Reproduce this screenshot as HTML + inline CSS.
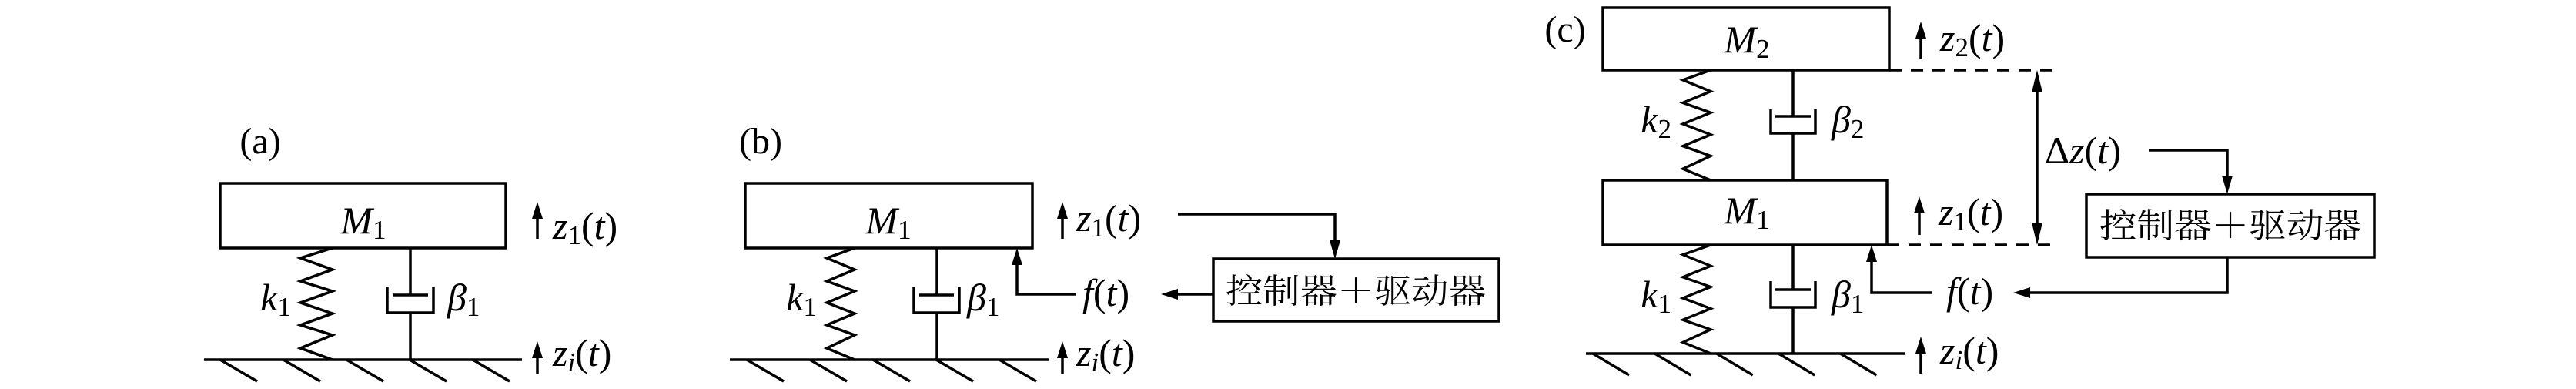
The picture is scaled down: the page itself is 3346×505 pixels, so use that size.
<!DOCTYPE html>
<html><head><meta charset="utf-8"><style>
html,body{margin:0;padding:0;background:#fff;}
svg{display:block;}
text{font-family:"Liberation Serif","Noto Serif CJK SC",serif;fill:#000;}
.cjk{font-family:"Liberation Serif","Noto Serif CJK SC","Noto Sans CJK SC",serif;}
</style></head><body>
<svg width="3346" height="505" viewBox="0 0 3346 505" xmlns="http://www.w3.org/2000/svg">
<defs>
<path id="spr" d="M18,0 L-18,13 L18,28 L-18,43 L18,56 L-18,71 L18,85 L-18,100 L18,113 L-18,130 L18,145" fill="none" stroke="#000" stroke-width="3.5"/>
<path id="hatch" d="M0,0 l48,28 M82,0 l48,28 M164,0 l48,28 M246,0 l48,28 M328,0 l48,28" fill="none" stroke="#000" stroke-width="3.5"/>
</defs>
<g stroke="#000" stroke-width="3.5" fill="none">
<!-- (a) -->
<rect x="286" y="238" width="371" height="84"/>
<line x1="265" y1="467" x2="678" y2="467"/>
<line x1="533" y1="322" x2="533" y2="383"/>
<line x1="533" y1="406" x2="533" y2="467"/>
<polyline points="503,372 503,406 563,406 563,372"/>
<line x1="510" y1="383" x2="556" y2="383"/>
<line x1="698" y1="310" x2="698" y2="280"/>
<line x1="698" y1="485" x2="698" y2="460"/>
<!-- (b) -->
<rect x="968" y="238" width="373" height="84"/>
<line x1="948" y1="467" x2="1362" y2="467"/>
<line x1="1217" y1="322" x2="1217" y2="383"/>
<line x1="1217" y1="406" x2="1217" y2="467"/>
<polyline points="1187,372 1187,406 1246,406 1246,372"/>
<line x1="1194" y1="383" x2="1239" y2="383"/>
<line x1="1380" y1="310" x2="1380" y2="280"/>
<line x1="1380" y1="485" x2="1380" y2="460"/>
<polyline points="1530,278 1734,278 1734,315"/>
<rect x="1576" y="336" width="371" height="81"/>
<line x1="1576" y1="382" x2="1525" y2="382"/>
<polyline points="1397,382 1321,382 1321,340"/>
<!-- (c) -->
<rect x="2082" y="10" width="372" height="81"/>
<rect x="2082" y="234" width="369" height="84"/>
<line x1="2060" y1="459" x2="2475" y2="459"/>
<line x1="2329" y1="91" x2="2329" y2="151"/>
<line x1="2329" y1="173" x2="2329" y2="234"/>
<polyline points="2300,142 2300,173 2358,173 2358,142"/>
<line x1="2306" y1="151" x2="2352" y2="151"/>
<line x1="2329" y1="318" x2="2329" y2="376"/>
<line x1="2329" y1="399" x2="2329" y2="459"/>
<polyline points="2300,365 2300,399 2358,399 2358,365"/>
<line x1="2306" y1="376" x2="2352" y2="376"/>
<line x1="2454" y1="91" x2="2668" y2="91" stroke-dasharray="16,12"/>
<line x1="2451" y1="318" x2="2668" y2="318" stroke-dasharray="16,12"/>
<line x1="2646" y1="105" x2="2646" y2="304"/>
<line x1="2495" y1="77" x2="2495" y2="45"/>
<line x1="2493" y1="305" x2="2493" y2="272"/>
<line x1="2495" y1="485" x2="2495" y2="455"/>
<polyline points="2792,195 2893,195 2893,232"/>
<rect x="2710" y="252" width="374" height="82"/>
<polyline points="2893,334 2893,380 2632,380"/>
<polyline points="2510,380 2431,380 2431,336"/>
</g>
<g fill="#000">
<polygon points="698,262 691,284 705,284"/>
<polygon points="698,443 691,465 705,465"/>
<polygon points="1380,262 1373,284 1387,284"/>
<polygon points="1380,443 1373,465 1387,465"/>
<polygon points="1734,336 1727,312 1741,312"/>
<polygon points="1508,382 1530,375 1530,389"/>
<polygon points="1321,322 1314,344 1328,344"/>
<polygon points="2495,28 2488,50 2502,50"/>
<polygon points="2493,255 2486,277 2500,277"/>
<polygon points="2495,437 2488,459 2502,459"/>
<polygon points="2646,91 2639,120 2653,120"/>
<polygon points="2646,318 2639,289 2653,289"/>
<polygon points="2893,252 2886,228 2900,228"/>
<polygon points="2615,380 2637,373 2637,387"/>
<polygon points="2431,318 2424,340 2438,340"/>
</g>
<use href="#spr" transform="translate(411,322) scale(1.15,1)"/>
<use href="#spr" transform="translate(1092,322)"/>
<use href="#spr" transform="translate(2204,91) scale(1,0.986)"/>
<use href="#spr" transform="translate(2204,318) scale(1,0.972)"/>
<use href="#hatch" transform="translate(286,467)"/>
<use href="#hatch" transform="translate(970,467)"/>
<use href="#hatch" transform="translate(2069,459) scale(0.98,1)"/>

<g font-size="48">
<text x="338" y="199" text-anchor="middle">(a)</text>
<text x="988" y="199" text-anchor="middle">(b)</text>
<text x="2033" y="54" text-anchor="middle">(c)</text>
</g>
<g font-size="50">
<!-- (a) -->
<text x="472" y="303" text-anchor="middle"><tspan font-style="italic">M</tspan><tspan font-size="35" dy="7">1</tspan></text>
<text x="718" y="310"><tspan font-style="italic">z</tspan><tspan font-size="35" dy="7">1</tspan><tspan dy="-7">(</tspan><tspan font-style="italic">t</tspan>)</text>
<text x="718" y="475"><tspan font-style="italic">z</tspan><tspan font-size="35" font-style="italic" dy="7">i</tspan><tspan dy="-7">(</tspan><tspan font-style="italic">t</tspan>)</text>
<text x="378" y="403" text-anchor="end"><tspan font-style="italic">k</tspan><tspan font-size="35" dy="7">1</tspan></text>
<text x="581" y="403"><tspan font-style="italic">β</tspan><tspan font-size="35" dy="7">1</tspan></text>
<!-- (b) -->
<text x="1154" y="303" text-anchor="middle"><tspan font-style="italic">M</tspan><tspan font-size="35" dy="7">1</tspan></text>
<text x="1398" y="300"><tspan font-style="italic">z</tspan><tspan font-size="35" dy="7">1</tspan><tspan dy="-7">(</tspan><tspan font-style="italic">t</tspan>)</text>
<text x="1398" y="475"><tspan font-style="italic">z</tspan><tspan font-size="35" font-style="italic" dy="7">i</tspan><tspan dy="-7">(</tspan><tspan font-style="italic">t</tspan>)</text>
<text x="1061" y="403" text-anchor="end"><tspan font-style="italic">k</tspan><tspan font-size="35" dy="7">1</tspan></text>
<text x="1256" y="403"><tspan font-style="italic">β</tspan><tspan font-size="35" dy="7">1</tspan></text>
<text x="1406" y="397"><tspan font-style="italic">f</tspan>(<tspan font-style="italic">t</tspan>)</text>
<!-- (c) -->
<text x="2269" y="68" text-anchor="middle"><tspan font-style="italic">M</tspan><tspan font-size="35" dy="7">2</tspan></text>
<text x="2269" y="290" text-anchor="middle"><tspan font-style="italic">M</tspan><tspan font-size="35" dy="7">1</tspan></text>
<text x="2520" y="66"><tspan font-style="italic">z</tspan><tspan font-size="35" dy="7">2</tspan><tspan dy="-7">(</tspan><tspan font-style="italic">t</tspan>)</text>
<text x="2518" y="292"><tspan font-style="italic">z</tspan><tspan font-size="35" dy="7">1</tspan><tspan dy="-7">(</tspan><tspan font-style="italic">t</tspan>)</text>
<text x="2520" y="472"><tspan font-style="italic">z</tspan><tspan font-size="35" font-style="italic" dy="7">i</tspan><tspan dy="-7">(</tspan><tspan font-style="italic">t</tspan>)</text>
<text x="2171" y="172" text-anchor="end"><tspan font-style="italic">k</tspan><tspan font-size="35" dy="7">2</tspan></text>
<text x="2171" y="399" text-anchor="end"><tspan font-style="italic">k</tspan><tspan font-size="35" dy="7">1</tspan></text>
<text x="2379" y="172"><tspan font-style="italic">β</tspan><tspan font-size="35" dy="7">2</tspan></text>
<text x="2379" y="399"><tspan font-style="italic">β</tspan><tspan font-size="35" dy="7">1</tspan></text>
<text x="2656" y="212">Δ<tspan font-style="italic">z</tspan>(<tspan font-style="italic">t</tspan>)</text>
<text x="2528" y="395"><tspan font-style="italic">f</tspan>(<tspan font-style="italic">t</tspan>)</text>
</g>
<g font-size="44" class="cjk">
<text class="cjk" x="1592" y="393" textLength="338" lengthAdjust="spacingAndGlyphs">控制器＋驱动器</text>
<text class="cjk" x="2727" y="308" textLength="340" lengthAdjust="spacingAndGlyphs">控制器＋驱动器</text>
</g>
</svg>
</body></html>
